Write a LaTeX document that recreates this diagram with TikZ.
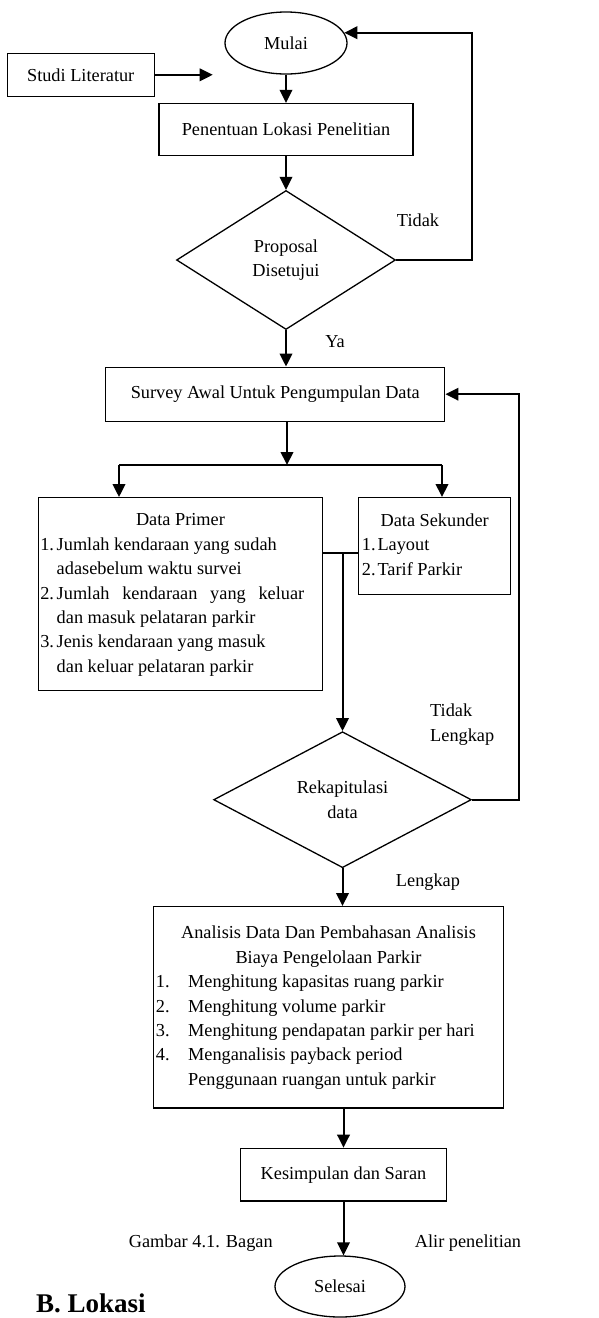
\documentclass[tikz,border=0pt]{standalone}
\usepackage{fontspec}
\setmainfont{Liberation Serif}
\usepackage{tikz}
\usetikzlibrary{shapes,arrows.meta,positioning,calc}

\begin{document}
\begin{tikzpicture}[
    x=1pt, y=-1pt,
    font=\fontsize{18.3}{24.4}\selectfont,
    terminal/.style={ellipse, draw, line width=1.3pt, minimum height=62pt, inner sep=0pt},
    process/.style={rectangle, draw, line width=1.3pt, inner sep=1pt, text centered},
    decision/.style={diamond, draw, line width=1.3pt, inner sep=0pt, align=center},
    note/.style={inner sep=0pt},
    arrow/.style={-{Triangle[length=13pt,width=12.5pt]}, line width=2pt},
    link/.style={line width=2pt}
]
\useasboundingbox (0,0) rectangle (598,1318);

% Start
\node[terminal, minimum width=122pt] (mulai) at (286,43) {Mulai};
\node[process, minimum width=147pt, minimum height=43pt] (studi) at (80.7,74.8) {Studi Literatur};
\node[process, minimum width=254pt, minimum height=52pt] (penentuan) at (286,129.5) {Penentuan Lokasi Penelitian};
\node[decision, minimum width=219pt, minimum height=139pt] (proposal) at (286,260) {Proposal\\Disetujui};

% Survey
\node[process, minimum width=339pt, minimum height=54pt] (survey) at (275.3,394.2) {Survey Awal Untuk Pengumpulan Data};

% Data
\node[process, minimum width=284.3pt, minimum height=193pt] (primer) at (180.5,594.2) {%
  \begin{tabular}{@{}p{16.5pt}@{}p{264pt}@{}}
  \multicolumn{2}{c}{Data Primer}\\
  1. & Jumlah kendaraan yang sudah\\
     & adasebelum waktu survei\\
  2. & \makebox[247.5pt][s]{Jumlah kendaraan yang keluar}\\
     & dan masuk pelataran parkir\\
  3. & Jenis kendaraan yang masuk\\
     & dan keluar pelataran parkir
  \end{tabular}};
\node[process, minimum width=152pt, minimum height=96.7pt] (sekunder) at (434.7,546) {%
  \begin{tabular}{@{}p{15.7pt}@{}p{130pt}@{}}
  \multicolumn{2}{c}{Data Sekunder}\\
  1. & Layout\\
  2. & Tarif Parkir
  \end{tabular}};

% Recap
\node[decision, minimum width=257.7pt, minimum height=136pt] (rekap) at (342.5,799.7) {Rekapitulasi\\data};

% Analysis
\node[process, minimum width=349.7pt, minimum height=201.3pt] (analisis) at (328.5,1007.3) {%
  \begin{tabular}{@{}p{32.3pt}@{}p{313pt}@{}}
  \multicolumn{2}{c}{Analisis Data Dan Pembahasan Analisis}\\
  \multicolumn{2}{c}{Biaya Pengelolaan Parkir}\\
  1. & Menghitung kapasitas ruang parkir\\
  2. & Menghitung volume parkir\\
  3. & Menghitung pendapatan parkir per hari\\
  4. & Menganalisis payback period\\
     & Penggunaan ruangan untuk parkir
  \end{tabular}};

% End
\node[process, minimum width=206pt, minimum height=52.7pt] (kesimpulan) at (343.5,1174.7) {Kesimpulan dan Saran};
\node[terminal, minimum width=130pt, minimum height=61pt] (selesai) at (340,1286.5) {Selesai};

% Labels
\node[note] (tidakA) at (418,220.7) {Tidak};
\node[note] (ya) at (335,341.7) {Ya};
\node[note, anchor=west, align=left] (tidakB) at (430,724.8) {Tidak\\Lengkap};
\node[note] (lengkap) at (428,882.3) {Lengkap};
\node[note] (gambar) at (200.8,1243.3) {Gambar 4.1. Bagan};
\node[note] (alir) at (468,1243.3) {Alir penelitian};
\node[note, anchor=base west, font=\fontsize{27}{32}\selectfont\bfseries] (lokasi) at (36,1312) {B. Lokasi};

% Helper points
\coordinate (studiEnd) at (212.7,74.8);
\coordinate (loopTop) at (472,33);
\coordinate (split) at (287,465);
\coordinate (barL) at (119,465);
\coordinate (barR) at (442,465);
\coordinate (merge) at (342.5,552.7);
\coordinate (loopRight) at (519,394.2);

% Arrows
\draw[arrow] (studi.east) -- (studiEnd);
\draw[arrow] (mulai.south) -- (penentuan.north);
\draw[arrow] (penentuan.south) -- (proposal.north);
\draw[arrow] (proposal.east) -| (loopTop) |- (mulai.10);
\draw[arrow] (proposal.south) -- (proposal.south |- survey.north);
\draw[arrow] (survey.south -| split) -- (split);
\draw[link] (barL) -- (barR);
\draw[arrow] (barL) -- (barL |- primer.north);
\draw[arrow] (barR) -- (barR |- sekunder.north);
\draw[link] (primer.east |- merge) -- (sekunder.west |- merge);
\draw[arrow] (merge) -- (rekap.north);
\draw[arrow] (rekap.east) -| (loopRight) -- (survey.east);
\draw[arrow] (rekap.south) -- (rekap.south |- analisis.north);
\draw[arrow] (analisis.south -| kesimpulan) -- (kesimpulan.north);
\draw[arrow] (kesimpulan.south) -- (kesimpulan.south |- selesai.north);

\end{tikzpicture}
\end{document}
